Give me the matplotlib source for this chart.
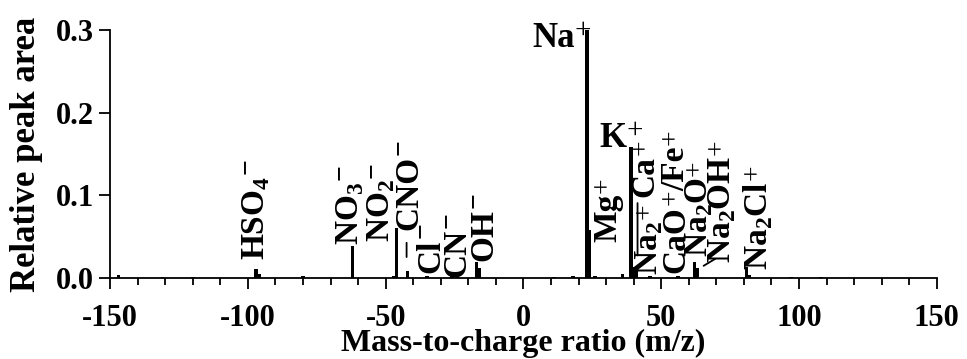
import matplotlib.pyplot as plt

plt.rcParams['font.family'] = 'Liberation Serif'
plt.rcParams['font.weight'] = 'bold'
plt.rcParams['mathtext.fontset'] = 'custom'
plt.rcParams['mathtext.rm'] = 'Liberation Serif'
plt.rcParams['mathtext.bf'] = 'Liberation Serif:bold'
plt.rcParams['axes.unicode_minus'] = False

# peaks: m/z (negative = anions) and relative peak area
mz = [-147, -131, -120, -97, -96, -80, -62, -47, -46, -42, -35, -26, -24,
      -17, -16, 11, 18, 23, 24, 26, 36, 39, 40, 41, 46, 56, 62, 63, 81, 82,
      97, 108]
area = [0.004, 0.001, 0.0015, 0.011, 0.005, 0.002, 0.039, 0.002, 0.060,
        0.008, 0.003, 0.003, 0.001, 0.019, 0.012, 0.001, 0.002, 0.300,
        0.058, 0.003, 0.005, 0.158, 0.013, 0.008, 0.003, 0.003, 0.019,
        0.012, 0.013, 0.004, 0.001, 0.001]

# rotated ion labels: parts (signs drawn separately), x centre, bottom y
vlabels = [['HSO$_4$', '−'], ['NO$_3$', '−'], ['NO$_2$', '−'], ['CNO', '−'],
           ['Cl', '−'], ['CN', '−'], ['OH', '−'], ['Mg', '+'],
           ['Na$_2$', '+'], ['Ca', '+'], ['CaO', '+', '/Fe', '+'],
           ['Na$_2$O', '+'], ['Na$_2$OH', '+'], ['Na$_2$Cl', '+']]
vlab_x = [-97, -63, -51.5, -41.7, -33.7, -24.3, -14.5, 30.5, 45.7, 44.2,
          55.2, 63.8, 72, 85]
vlab_y = [0.022, 0.040, 0.043, 0.058, 0.006, 0.001, 0.020, 0.043, 0.004,
          0.098, 0.006, 0.025, 0.018, 0.010]

# horizontal labels
hlabels = [['Na', '+'], ['K', '+']]
hlab_x = [18.5, 37.4]
hlab_y = [0.279, 0.158]

# leader lines (start, end)
leaders = [((-42.4, 0.046), (-42.4, 0.022)),
           ((41.4, 0.094), (41.4, 0.024)),
           ((64.5, 0.013), (70.5, 0.025))]

fig = plt.figure(figsize=(9.67, 3.59), dpi=100)
ax = fig.add_axes([0.1138, 0.2256, 0.855, 0.6908])

ax.bar(mz, area, width=1.3, color='black', linewidth=0)

for parts, x, y in zip(vlabels, vlab_x, vlab_y):
    prev = ax.text(x, y, parts[0], rotation=90, ha='center', va='bottom',
                   fontsize=24, fontweight='bold', clip_on=False)
    for p in parts[1:]:
        sign = p in ('+', '−')
        dx = (-7 if p == '−' else -3) if sign else 0
        prev = ax.annotate(p, xy=(x, 1.0), xycoords=('data', prev),
                           xytext=(dx, 1 if sign else -1),
                           textcoords='offset points', rotation=90,
                           ha='center', va='bottom',
                           fontsize=20 if sign else 24,
                           fontweight='normal' if p == '+' else 'bold',
                           annotation_clip=False)

for parts, x, y in zip(hlabels, hlab_x, hlab_y):
    base = ax.text(x, y, parts[0], ha='right', va='baseline', fontsize=25,
                   fontweight='bold', clip_on=False)
    ax.annotate(parts[1], xy=(1.0, 1.0), xycoords=base, xytext=(0, 3),
                textcoords='offset points', ha='left', va='top',
                fontsize=21, fontweight='normal', annotation_clip=False)

for a, b in leaders:
    ax.annotate('', xy=b, xytext=a,
                arrowprops=dict(arrowstyle='-', color='black', lw=1.3))

ax.set_xlim(-150, 150)
ax.set_ylim(0, 0.3)
ax.set_xticks([-150, -100, -50, 0, 50, 100, 150])
ax.set_xticks(range(-150, 151, 10), minor=True)
ax.set_yticks([0.0, 0.1, 0.2, 0.3])
ax.set_yticklabels(['0.0', '0.1', '0.2', '0.3'])
ax.tick_params(axis='both', which='major', direction='out', length=8,
               width=1.3, labelsize=22)
ax.tick_params(axis='x', which='major', pad=11)
ax.tick_params(axis='x', which='minor', direction='out', length=5,
               width=1.3)
ax.spines['top'].set_visible(False)
ax.spines['right'].set_visible(False)
ax.spines['left'].set_linewidth(1.3)
ax.spines['bottom'].set_linewidth(1.3)

ax.set_xlabel('Mass-to-charge ratio (m/z)', fontsize=23, fontweight='bold',
              labelpad=-3)
ax.set_ylabel('Relative peak area', fontsize=25, fontweight='bold',
              labelpad=9)

plt.savefig('out.png', dpi=100)
